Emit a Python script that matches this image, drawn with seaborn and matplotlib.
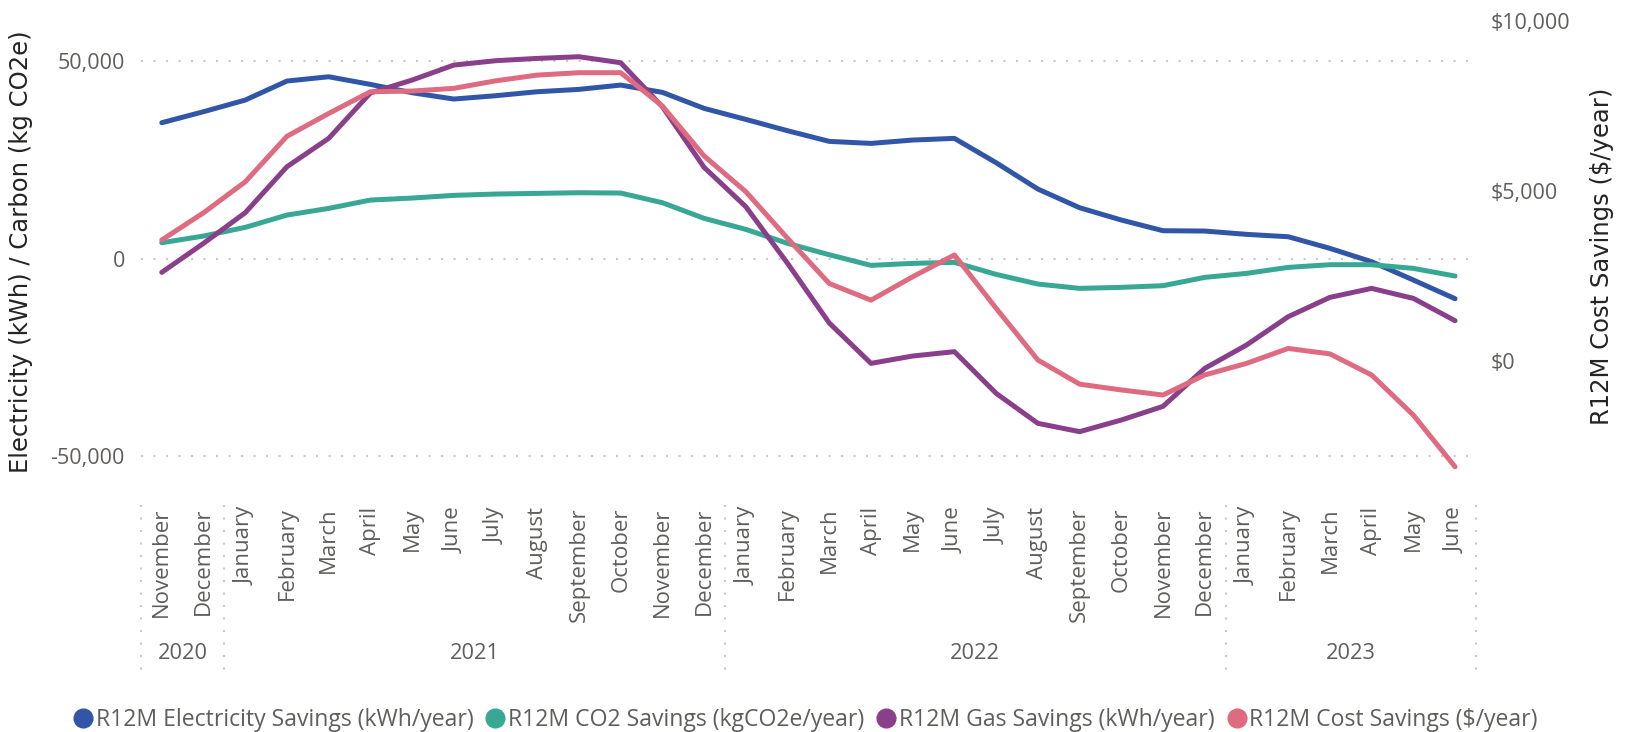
import matplotlib
matplotlib.use("Agg")
import matplotlib.pyplot as plt
import matplotlib.transforms as mtransforms
from matplotlib.lines import Line2D
from matplotlib.ticker import FuncFormatter
import pandas as pd
import seaborn as sns

# ---- data ----
month_names = ["November", "December",
               "January", "February", "March", "April", "May", "June",
               "July", "August", "September", "October", "November", "December",
               "January", "February", "March", "April", "May", "June",
               "July", "August", "September", "October", "November", "December",
               "January", "February", "March", "April", "May", "June"]
years = ["2020"] * 2 + ["2021"] * 12 + ["2022"] * 12 + ["2023"] * 6

elec = [34460, 37250, 40200, 45020, 46110, 44170, 42060, 40460, 41300, 42310, 42910, 44000,
        42150, 38090, 35300, 32430, 29730, 29220, 30070, 30490, 24320, 17650, 12920, 9800,
        7090, 7010, 6170, 5570, 2620, -760, -5400, -10140]
co2 = [4050, 5740, 7940, 11060, 12750, 14860, 15370, 16050, 16390, 16550, 16720, 16640,
       14190, 10220, 7430, 3890, 1000, -1690, -1180, -930, -3970, -6420, -7520, -7260,
       -6840, -4730, -3720, -2200, -1520, -1520, -2450, -4390]
gas = [-3460, 3890, 11660, 23310, 30490, 42000, 45270, 49070, 50170, 50760, 51180, 49660,
       38510, 23140, 13180, -1180, -16300, -26520, -24660, -23560, -34120, -41720, -43830, -40880,
       -37420, -27790, -21880, -14700, -9800, -7520, -10050, -15710]
cost = [3550, 4350, 5260, 6600, 7270, 7910, 7930, 8010, 8230, 8400, 8470, 8470,
        7490, 6020, 4970, 3600, 2270, 1780, 2470, 3110, 1540, 20, -690, -860,
        -1010, -420, -80, 360, 200, -420, -1600, -3120]

ELEC = "R12M Electricity Savings (kWh/year)"
CO2 = "R12M CO2 Savings (kgCO2e/year)"
GAS = "R12M Gas Savings (kWh/year)"
COST = "R12M Cost Savings ($/year)"
colors = {ELEC: "#3156A8", CO2: "#38A894", GAS: "#893F8A", COST: "#DF6B80"}

df = pd.DataFrame({"idx": range(len(month_names)), "month": month_names, "year": years,
                   ELEC: elec, CO2: co2, GAS: gas, COST: cost})
left = df.melt(id_vars=["idx"], value_vars=[ELEC, CO2, GAS], var_name="series", value_name="value")

sns.set_theme(style="white")
plt.rcParams["font.family"] = ["Open Sans", "DejaVu Sans"]

grey = "#605E5C"
dotted = (0, (1, 5))

fig = plt.figure(figsize=(16.35, 7.32), dpi=100)
ax = fig.add_axes([0.0862, 0.347, 0.8165, 0.6325])

sns.lineplot(data=left, x="idx", y="value", hue="series", palette=colors, linewidth=3.6,
             legend=False, ax=ax, solid_capstyle="round", solid_joinstyle="round")
ax2 = ax.twinx()
sns.lineplot(data=df, x="idx", y=COST, color=colors[COST], linewidth=3.6, legend=False, ax=ax2,
             solid_capstyle="round", solid_joinstyle="round")

ax.set_xlim(-0.5, len(df) - 0.5)
ax.set_ylim(-55570, 61755)
ax2.set_ylim(-3450, 10167)

for a in (ax, ax2):
    for s in a.spines.values():
        s.set_visible(False)

ax.set_yticks([-50000, 0, 50000])
ax.yaxis.set_major_formatter(FuncFormatter(lambda v, p: f"{v:,.0f}"))
ax.grid(axis="y", color="#C8C8C8", linestyle=dotted, linewidth=1.5)
ax.grid(axis="x", visible=False)
ax.tick_params(axis="y", length=0, pad=11.5, labelsize=15.5, labelcolor=grey)

ax2.set_yticks([0, 5000, 10000])
ax2.yaxis.set_major_formatter(FuncFormatter(lambda v, p: f"${v:,.0f}"))
ax2.grid(False)
ax2.tick_params(axis="y", length=0, pad=10.8, labelsize=15.5, labelcolor=grey)

ax.set_xticks(df["idx"])
ax.set_xticklabels(df["month"], rotation=90)
ax.tick_params(axis="x", length=0, pad=21, labelsize=16, labelcolor=grey)
ax.set_xlabel("")

trans = mtransforms.blended_transform_factory(ax.transData, ax.transAxes)
groups = df.groupby("year")["idx"]
bounds = [-0.5]
for yr, g in groups:
    ax.text(g.mean(), -0.380, yr, transform=trans, ha="center", va="center",
            fontsize=15.7, color=grey)
    bounds.append(g.max() + 0.5)
for b in bounds:
    ax.plot([b, b], [-0.058, -0.421], transform=trans, clip_on=False,
            color="#C8C8C8", linestyle=dotted, linewidth=1.5)

ax.set_ylabel("Electricity (kWh) / Carbon (kg CO2e)", fontsize=17.5, color="#252423",
              family="DejaVu Sans")
ax.yaxis.set_label_coords(-0.0805, 0.489)
ax2.set_ylabel(COST, fontsize=17.5, color="#252423", family="DejaVu Sans")
ax2.yaxis.set_label_coords(1.0854, 0.478)

handles = [Line2D([], [], marker="o", linestyle="", markersize=13.5, color=colors[k])
           for k in (ELEC, CO2, GAS, COST)]
fig.legend(handles, [ELEC, CO2, GAS, COST], loc="center", bbox_to_anchor=(0.4925, 0.0164),
           ncol=4, frameon=False, fontsize=16.6, labelcolor=grey, handletextpad=0.1,
           columnspacing=0.5, handlelength=0.9, borderaxespad=0)

fig.savefig("out.png", dpi=100, facecolor="white")
